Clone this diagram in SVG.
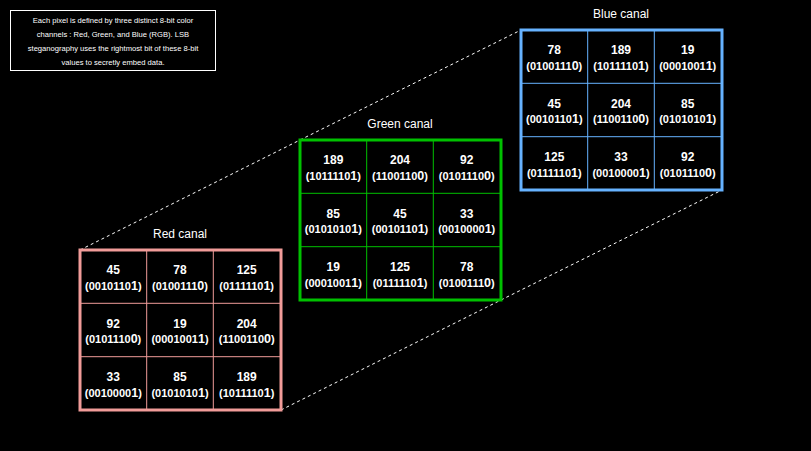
<svg xmlns="http://www.w3.org/2000/svg" width="811" height="451" viewBox="0 0 811 451">
<style>
text{font-family:"Liberation Sans",Arial,sans-serif;fill:#fff;text-anchor:middle}
.num{font-size:12px;font-weight:bold}
.bin{font-size:11px;font-weight:bold}
.lsb{font-size:12.5px}
.lbl{font-size:12px}
.note{font-size:7.6px}
.dash{stroke:#fff;stroke-width:1;stroke-dasharray:3 3;fill:none}
.red .frame{stroke:#F19C99}.red .grid{stroke:#F19C99}
.green .frame{stroke:#00C000}.green .grid{stroke:#00C000}
.blue .frame{stroke:#66B2FF}.blue .grid{stroke:#66B2FF}
.frame{fill:#000;stroke-width:3}
.grid{stroke-width:1;fill:none}
</style>
<rect width="811" height="451" fill="#000"/>
<g id="note">
<rect x="10.5" y="10.5" width="205" height="60" fill="none" stroke="#fff" stroke-width="1"/>
<text class="note" x="113" y="23">Each pixel is defined by three distinct 8-bit color</text>
<text class="note" x="113" y="37">channels : Red, Green, and Blue (RGB). LSB</text>
<text class="note" x="113" y="51">steganography uses the rightmost bit of these 8-bit</text>
<text class="note" x="113" y="65">values to secretly embed data.</text>
</g>
<g id="connectors">
<line class="dash" x1="80" y1="250" x2="300" y2="140"/>
<line class="dash" x1="300" y1="140" x2="521" y2="30"/>
<line class="dash" x1="281" y1="410" x2="501" y2="300"/>
<line class="dash" x1="501" y1="300" x2="722" y2="190"/>
</g>
<g id="red" class="red">
<text class="lbl" x="180" y="238">Red canal</text>
<rect class="frame" x="80" y="250" width="201" height="160"/>
<path class="grid" d="M146.7 250V410M213.3 250V410M80 303.3H281M80 356.7H281"/>
<text class="num" x="113.3" y="274.2">45</text><text class="bin" x="113.3" y="290">(0010110<tspan class="lsb">1</tspan>)</text>
<text class="num" x="180" y="274.2">78</text><text class="bin" x="180" y="290">(0100111<tspan class="lsb">0</tspan>)</text>
<text class="num" x="246.7" y="274.2">125</text><text class="bin" x="246.7" y="290">(0111110<tspan class="lsb">1</tspan>)</text>
<text class="num" x="113.3" y="327.5">92</text><text class="bin" x="113.3" y="343.3">(0101110<tspan class="lsb">0</tspan>)</text>
<text class="num" x="180" y="327.5">19</text><text class="bin" x="180" y="343.3">(0001001<tspan class="lsb">1</tspan>)</text>
<text class="num" x="246.7" y="327.5">204</text><text class="bin" x="246.7" y="343.3">(1100110<tspan class="lsb">0</tspan>)</text>
<text class="num" x="113.3" y="380.8">33</text><text class="bin" x="113.3" y="396.6">(0010000<tspan class="lsb">1</tspan>)</text>
<text class="num" x="180" y="380.8">85</text><text class="bin" x="180" y="396.6">(0101010<tspan class="lsb">1</tspan>)</text>
<text class="num" x="246.7" y="380.8">189</text><text class="bin" x="246.7" y="396.6">(1011110<tspan class="lsb">1</tspan>)</text>
</g>
<g id="green" class="green">
<text class="lbl" x="400" y="128">Green canal</text>
<rect class="frame" x="300" y="140" width="201" height="160"/>
<path class="grid" d="M366.7 140V300M433.3 140V300M300 193.3H501M300 246.7H501"/>
<text class="num" x="333.3" y="164.2">189</text><text class="bin" x="333.3" y="180">(1011110<tspan class="lsb">1</tspan>)</text>
<text class="num" x="400" y="164.2">204</text><text class="bin" x="400" y="180">(1100110<tspan class="lsb">0</tspan>)</text>
<text class="num" x="466.7" y="164.2">92</text><text class="bin" x="466.7" y="180">(0101110<tspan class="lsb">0</tspan>)</text>
<text class="num" x="333.3" y="217.5">85</text><text class="bin" x="333.3" y="233.3">(0101010<tspan class="lsb">1</tspan>)</text>
<text class="num" x="400" y="217.5">45</text><text class="bin" x="400" y="233.3">(0010110<tspan class="lsb">1</tspan>)</text>
<text class="num" x="466.7" y="217.5">33</text><text class="bin" x="466.7" y="233.3">(0010000<tspan class="lsb">1</tspan>)</text>
<text class="num" x="333.3" y="270.8">19</text><text class="bin" x="333.3" y="286.6">(0001001<tspan class="lsb">1</tspan>)</text>
<text class="num" x="400" y="270.8">125</text><text class="bin" x="400" y="286.6">(0111110<tspan class="lsb">1</tspan>)</text>
<text class="num" x="466.7" y="270.8">78</text><text class="bin" x="466.7" y="286.6">(0100111<tspan class="lsb">0</tspan>)</text>
</g>
<g id="blue" class="blue">
<text class="lbl" x="621" y="18">Blue canal</text>
<rect class="frame" x="521" y="30" width="201" height="160"/>
<path class="grid" d="M587.7 30V190M654.3 30V190M521 83.3H722M521 136.7H722"/>
<text class="num" x="554.3" y="54.2">78</text><text class="bin" x="554.3" y="70">(0100111<tspan class="lsb">0</tspan>)</text>
<text class="num" x="621" y="54.2">189</text><text class="bin" x="621" y="70">(1011110<tspan class="lsb">1</tspan>)</text>
<text class="num" x="687.7" y="54.2">19</text><text class="bin" x="687.7" y="70">(0001001<tspan class="lsb">1</tspan>)</text>
<text class="num" x="554.3" y="107.5">45</text><text class="bin" x="554.3" y="123.3">(0010110<tspan class="lsb">1</tspan>)</text>
<text class="num" x="621" y="107.5">204</text><text class="bin" x="621" y="123.3">(1100110<tspan class="lsb">0</tspan>)</text>
<text class="num" x="687.7" y="107.5">85</text><text class="bin" x="687.7" y="123.3">(0101010<tspan class="lsb">1</tspan>)</text>
<text class="num" x="554.3" y="160.8">125</text><text class="bin" x="554.3" y="176.6">(0111110<tspan class="lsb">1</tspan>)</text>
<text class="num" x="621" y="160.8">33</text><text class="bin" x="621" y="176.6">(0010000<tspan class="lsb">1</tspan>)</text>
<text class="num" x="687.7" y="160.8">92</text><text class="bin" x="687.7" y="176.6">(0101110<tspan class="lsb">0</tspan>)</text>
</g>
</svg>
